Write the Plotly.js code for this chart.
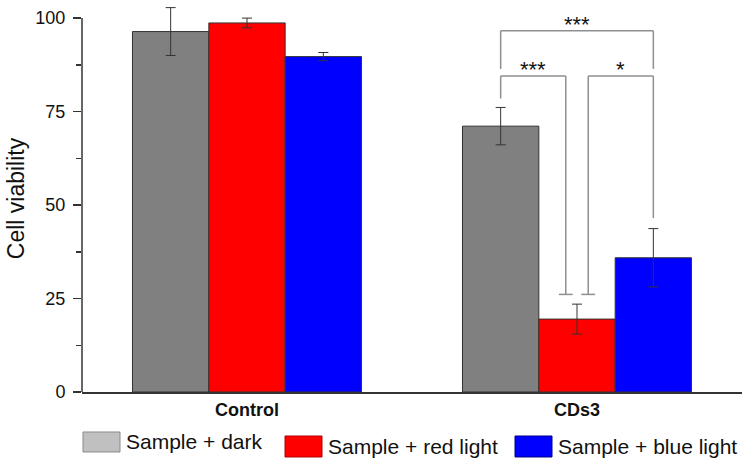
<!DOCTYPE html>
<html>
<head>
<meta charset="utf-8">
<script src="https://cdn.plot.ly/plotly-3.0.1.min.js"></script>
<style>
  html, body { margin: 0; padding: 0; background: #fff; }
  #chart { width: 750px; height: 468px; }
</style>
</head>
<body>
<div id="chart"></div>
<script>
// groups and series
var groups = ['Control', 'CDs3'];
var seriesNames = ['Sample + dark', 'Sample + red light', 'Sample + blue light'];
var barColors = ['#808080', '#ff0000', '#0000ff'];
var legendColors = ['#c0c0c0', '#ff0000', '#0000ff'];

// mean viability and error per group
var darkMean = [96.4, 71.1];
var darkErr = [6.4, 5.0];
var redMean = [98.7, 19.5];
var redErr = [1.3, 4.0];
var blueMean = [89.7, 35.9];
var blueErr = [1.1, 7.8];

var yTicks = [0, 25, 50, 75, 100];
var yAxisTop = 100;   // axis line stops here, error bars may go above

// significance brackets inside the CDs3 group (series index pairs)
var sigGroup = 1;
var sigLeft = [0, 1, 0];
var sigRight = [1, 2, 2];
var sigLabel = ['***', '*', '***'];
var sigLevel = [84.5, 84.5, 96.6];
var sigLeftEnd = [78.5, 26.1, 86.4];
var sigRightEnd = [26.1, 46.5, 86.4];

var means = [darkMean, redMean, blueMean];
var errs = [darkErr, redErr, blueErr];

var bargap = 0.306;
var barW = (1 - bargap) / 3;

var traces = [];
for (var s = 0; s < 3; s++) {
  traces.push({
    type: 'bar',
    name: seriesNames[s],
    x: groups,
    y: means[s],
    marker: {color: barColors[s], line: {color: '#333333', width: 1}},
    error_y: {type: 'data', array: errs[s], visible: true, color: '#333333', thickness: 1, width: 5},
    showlegend: false
  });
}

// x centre of a bar (category axis index units)
function barX(g, s) { return g + (s - 1) * barW; }

var shapes = [];
var annotations = [];
var lineStyle = {color: '#8f8f8f', width: 1.5};
var nudge = 0.034, cap = 0.021;

// y axis line only up to 100
shapes.push({type: 'line', xref: 'paper', yref: 'y', x0: 0, x1: 0, y0: 0, y1: yAxisTop,
  line: {color: '#333333', width: 1.5}});

for (var i = 0; i < sigLabel.length; i++) {
  var xl = barX(sigGroup, sigLeft[i]);
  var xr = barX(sigGroup, sigRight[i]);
  var inner = sigRight[i] - sigLeft[i] === 1;
  // the shared middle bar gets two legs, pushed apart
  if (inner && sigRight[i] === 1) xr -= nudge;
  if (inner && sigLeft[i] === 1) xl += nudge;
  shapes.push({type: 'line', xref: 'x', yref: 'y', x0: xl, x1: xr, y0: sigLevel[i], y1: sigLevel[i], line: lineStyle});
  shapes.push({type: 'line', xref: 'x', yref: 'y', x0: xl, x1: xl, y0: sigLevel[i], y1: sigLeftEnd[i], line: lineStyle});
  shapes.push({type: 'line', xref: 'x', yref: 'y', x0: xr, x1: xr, y0: sigLevel[i], y1: sigRightEnd[i], line: lineStyle});
  if (inner && sigRight[i] === 1) {
    shapes.push({type: 'line', xref: 'x', yref: 'y', x0: xr - cap, x1: xr + cap, y0: sigRightEnd[i], y1: sigRightEnd[i], line: lineStyle});
  }
  if (inner && sigLeft[i] === 1) {
    shapes.push({type: 'line', xref: 'x', yref: 'y', x0: xl - cap, x1: xl + cap, y0: sigLeftEnd[i], y1: sigLeftEnd[i], line: lineStyle});
  }
  annotations.push({
    xref: 'x', yref: 'y', x: (xl + xr) / 2, y: sigLevel[i],
    text: sigLabel[i], showarrow: false, xanchor: 'center', yanchor: 'bottom', yshift: -8,
    font: {family: 'Liberation Sans, Arial, sans-serif', size: 22, color: '#111111'}
  });
}

// plot box in pixels: 100 sits at y=18, 0 at y=392
var plotL = 82, plotR = 742, plotB = 392, pxPerUnit = 3.74;
var yRangeTop = 103.5;
var plotT = plotB - yRangeTop * pxPerUnit;
function px2x(px) { return (px - plotL) / (plotR - plotL); }
function py2y(py) { return (plotB - py) / (plotB - plotT); }

// hand-placed legend (large swatches, staggered like the original)
var legSwatch = [[83, 120, 432, 452], [285, 322, 436, 457], [515, 552, 436, 457]];
var legBorder = ['#8a8a8a', '#b00000', '#00008a'];
for (var k = 0; k < 3; k++) {
  var sw = legSwatch[k];
  shapes.push({type: 'rect', xref: 'paper', yref: 'paper',
    x0: px2x(sw[0]), x1: px2x(sw[1]), y0: py2y(sw[3]), y1: py2y(sw[2]),
    fillcolor: legendColors[k], line: {color: legBorder[k], width: 1}});
  annotations.push({xref: 'paper', yref: 'paper', x: px2x(sw[1] + 4), y: py2y((sw[2] + sw[3]) / 2),
    text: seriesNames[k], showarrow: false, xanchor: 'left', yanchor: 'middle',
    font: {family: 'Liberation Sans, Arial, sans-serif', size: 21, color: '#111111'}});
}

var layout = {
  width: 750,
  height: 468,
  margin: {l: plotL, r: 750 - plotR, t: plotT, b: 468 - plotB, pad: 0},
  paper_bgcolor: '#ffffff',
  plot_bgcolor: '#ffffff',
  barmode: 'group',
  bargap: bargap,
  bargroupgap: 0,
  showlegend: false,
  font: {family: 'Liberation Sans, Arial, sans-serif', color: '#111111'},
  xaxis: {
    type: 'category',
    showline: true, linecolor: '#333333', linewidth: 1.5,
    ticks: '', showgrid: false, zeroline: false,
    tickfont: {size: 18, family: 'Liberation Sans, Arial, sans-serif', weight: 'bold', color: '#111111'},
    ticklabelstandoff: 1,
    automargin: false
  },
  yaxis: {
    range: [0, yRangeTop],
    tickvals: yTicks,
    showline: false,
    ticks: 'outside', ticklen: 8, tickwidth: 1.5, tickcolor: '#333333',
    minor: {tickvals: [12.5, 37.5, 62.5, 87.5], ticks: 'outside', ticklen: 5, tickwidth: 1.5, tickcolor: '#333333'},
    showgrid: false, zeroline: false,
    tickfont: {size: 18, color: '#111111'},
    ticklabelstandoff: 4,
    title: {text: 'Cell viability', font: {size: 23, color: '#111111'}, standoff: 4},
    automargin: false
  },
  shapes: shapes,
  annotations: annotations
};

Plotly.newPlot('chart', traces, layout, {displayModeBar: false, staticPlot: true});
</script>
</body>
</html>
